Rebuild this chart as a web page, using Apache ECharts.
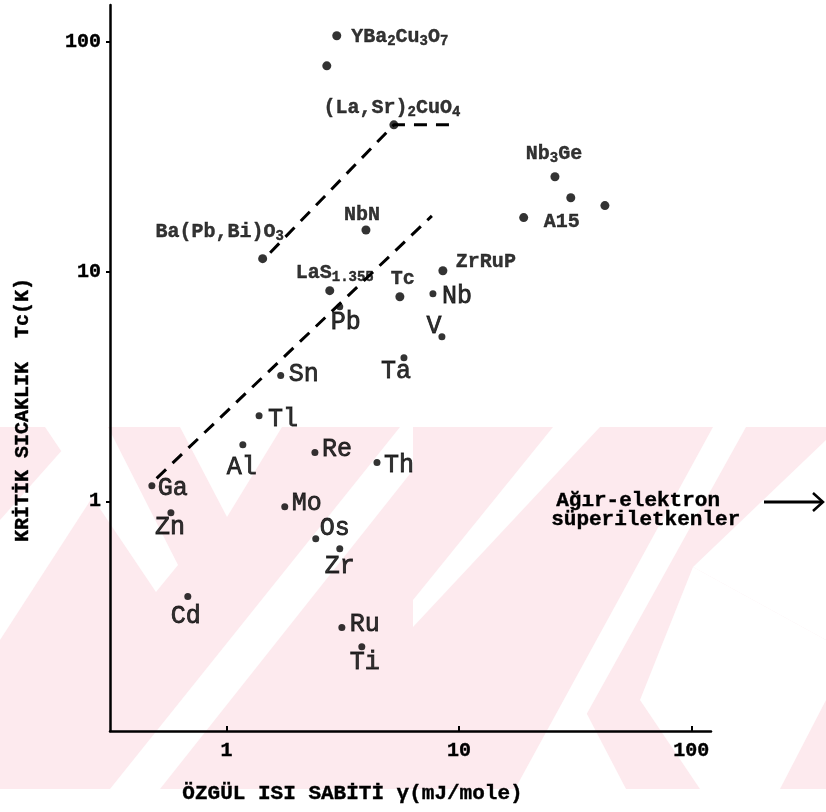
<!DOCTYPE html>
<html>
<head>
<meta charset="utf-8">
<script src="https://cdn.jsdelivr.net/npm/echarts@6/dist/echarts.min.js"></script>
<style>
html,body{margin:0;padding:0;background:#fff;}
#chart{width:826px;height:812px;}
</style>
</head>
<body>
<div id="chart"></div>
<script>
// ---------- DATA ----------
// Compounds / high-Tc materials (gamma [mJ/mole K^2], Tc [K])
var compoundNames = ['YBa{s|2}Cu{s|3}O{s|7}', '', '(La,Sr){s|2}CuO{s|4}', 'Ba(Pb,Bi)O{s|3}', 'NbN',
  'LaS{s|1.355}', 'Tc', 'Nb{s|3}Ge', '', '', 'A15', 'ZrRuP'];
var compoundGamma = [2.98, 2.70, 5.25, 1.43, 3.98, 2.78, 5.57, 25.9, 30.3, 42.5, 19.0, 8.53];
var compoundTc    = [106.5, 78.8, 43.6, 11.4, 15.2, 8.27, 7.78, 25.9, 21.0, 19.4, 17.2, 10.1];

// Elements
var elementNames = ['Nb', 'V', 'Pb', 'Ta', 'Sn', 'Tl', 'Al', 'Re', 'Th', 'Ga', 'Mo', 'Zn', 'Os', 'Zr', 'Cd', 'Ru', 'Ti'];
var elementGamma = [7.73, 8.45, 3.07, 5.80, 1.71, 1.38, 1.175, 2.40, 4.44, 0.477, 1.78, 0.576, 2.42, 3.07, 0.681, 3.135, 3.82];
var elementTc    = [8.02, 5.21, 7.04, 4.22, 3.53, 2.36, 1.765, 1.63, 1.475, 1.17, 0.948, 0.893, 0.688, 0.622, 0.385, 0.282, 0.233];

// Dashed guide lines
var guide1Gamma = [1.54, 5.25, 9.06];
var guide1Tc    = [12.1, 43.6, 43.6];
var guide2Gamma = [0.50, 7.65];
var guide2Tc    = [1.26, 17.5];

// Axis ticks
var xTicks = [1, 10, 100];
var yTicks = [1, 10, 100];

// Annotation text
var annotationLines = ['Ağır-elektron', 'süperiletkenler'];

// ---------- LABEL LAYOUT (style, not data) ----------
var compoundLabelOffsets = [[63, 1], [0, 0], [-2, -17], [-43, -27], [-4, -15], [5, -18], [3, -18], [-1, -23], [0, 0], [0, 0], [38, 4], [43, -9]];
var elementLabelOffsets = [[24, 3], [-8, -10], [6, 16], [-8, 14], [23, -1], [24, 4], [-1, 23], [22, -3], [22, 3], [21, 3], [22, -3], [-1, 15], [19, -10], [0, 18], [-2, 20], [23, -3], [3, 16]];

var MONO = '"Liberation Mono", "DejaVu Sans Mono", monospace';

function zip(xs, ys, names, offs) {
  return xs.map(function (x, i) {
    return { name: names[i], value: [x, ys[i]], label: { offset: offs[i] } };
  });
}
function pairs(xs, ys) { return xs.map(function (x, i) { return [x, ys[i]]; }); }
function tickFmt(list) {
  return function (v) {
    var r = Math.round(v);
    return (list.indexOf(r) >= 0 && Math.abs(v - r) < 1e-6) ? String(r) : '';
  };
}

var chart = echarts.init(document.getElementById('chart'), null, { renderer: 'canvas' });

var pink = '#fdeaee';
var watermark = [
  { type: 'rect', shape: { x: 0, y: 427, width: 826, height: 362 }, style: { fill: pink } },
  { type: 'polygon', shape: { points: [[45, 427], [108, 427], [178, 565], [156, 592]] }, style: { fill: '#fff' } },
  { type: 'polygon', shape: { points: [[180, 427], [282, 427], [227, 517]] }, style: { fill: '#fff' } },
  { type: 'polygon', shape: { points: [[0, 520], [0, 640], [110, 470], [80, 430]] }, style: { fill: '#fff' } },
  { type: 'polygon', shape: { points: [[110, 789], [160, 789], [413, 470], [413, 420], [400, 427]] }, style: { fill: '#fff' } },
  { type: 'polygon', shape: { points: [[553, 427], [600, 427], [413, 627], [413, 600]] }, style: { fill: '#fff' } },
  { type: 'polygon', shape: { points: [[713, 427], [746, 427], [545, 789], [515, 789]] }, style: { fill: '#fff' } },
  { type: 'polygon', shape: { points: [[693, 567], [826, 440], [826, 640]] }, style: { fill: '#fff' } },
  { type: 'polygon', shape: { points: [[693, 567], [826, 640], [826, 700], [780, 789], [700, 789], [640, 700]] }, style: { fill: '#fff' } },
  { type: 'polygon', shape: { points: [[576, 693], [530, 789], [626, 789]] }, style: { fill: '#fff' } }
].map(function (e) { e.z = -100; e.silent = true; return e; });

var boldText = { fontFamily: MONO, fontWeight: 'bold', color: '#000', textBorderColor: '#000', textBorderWidth: 0.4 };

var option = {
  backgroundColor: '#fff',
  animation: false,
  textStyle: { fontFamily: MONO, color: '#000' },
  grid: { left: 110, top: 5, right: 115, bottom: 81, containLabel: false },
  xAxis: {
    type: 'log', logBase: 10, min: 0.315, max: 121.6,
    name: 'ÖZGÜL ISI SABİTİ γ(mJ/mole)',
    nameLocation: 'middle', nameGap: 52,
    nameTextStyle: Object.assign({}, boldText, { fontSize: 21, padding: [0, 116, 0, 0] }),
    axisLine: { lineStyle: { color: '#000', width: 2.5 } },
    axisTick: { inside: true, length: 5, lineStyle: { color: '#000', width: 2 } },
    axisLabel: Object.assign({}, boldText, {
      showMinLabel: false, showMaxLabel: false, margin: 10, fontSize: 20,
      formatter: tickFmt(xTicks)
    }),
    splitLine: { show: false }
  },
  yAxis: {
    type: 'log', logBase: 10, min: 0.1, max: 145,
    name: 'KRİTİK SICAKLIK  Tc(K)',
    nameLocation: 'middle', nameGap: 77, nameRotate: 90,
    nameTextStyle: Object.assign({}, boldText, { fontSize: 20, padding: [0, 84, 0, 0] }),
    axisLine: { lineStyle: { color: '#000', width: 2.5 } },
    axisTick: { length: 4, lineStyle: { color: '#000', width: 2 } },
    axisLabel: Object.assign({}, boldText, {
      showMinLabel: false, showMaxLabel: false, margin: 9, fontSize: 20,
      formatter: tickFmt(yTicks)
    }),
    splitLine: { show: false }
  },
  graphic: watermark.concat([
    {
      type: 'text', left: 556, top: 490, z: 10,
      style: { text: annotationLines[0], font: 'bold 21px ' + MONO, fill: '#000', stroke: '#000', lineWidth: 0.4 }
    },
    {
      type: 'text', left: 551, top: 509, z: 10,
      style: { text: annotationLines[1], font: 'bold 21px ' + MONO, fill: '#000', stroke: '#000', lineWidth: 0.4 }
    },
    {
      type: 'line', z: 10, shape: { x1: 764, y1: 502, x2: 822, y2: 502 },
      style: { stroke: '#000', lineWidth: 3 }
    },
    {
      type: 'polyline', z: 10, shape: { points: [[813, 493], [823, 502], [813, 511]] },
      style: { stroke: '#000', lineWidth: 2.5, fill: null }
    }
  ]),
  series: [
    {
      name: 'guide1', type: 'line', data: pairs(guide1Gamma, guide1Tc), symbol: 'none', silent: true,
      lineStyle: { color: '#000', width: 3, type: [13, 9] }, z: 1
    },
    {
      name: 'guide2', type: 'line', data: pairs(guide2Gamma, guide2Tc), symbol: 'none', silent: true,
      lineStyle: { color: '#000', width: 3, type: [13, 9] }, z: 1
    },
    {
      name: 'Bileşikler', type: 'scatter', symbolSize: 9,
      itemStyle: { color: '#000' },
      data: zip(compoundGamma, compoundTc, compoundNames, compoundLabelOffsets),
      label: Object.assign({}, boldText, {
        show: true, position: 'inside', align: 'center', verticalAlign: 'middle',
        formatter: function (p) { return p.name; },
        fontSize: 20, lineHeight: 24,
        rich: { s: Object.assign({}, boldText, { fontSize: 14, lineHeight: 14, verticalAlign: 'bottom' }) }
      })
    },
    {
      name: 'Elementler', type: 'scatter', symbolSize: 7,
      itemStyle: { color: '#000' },
      data: zip(elementGamma, elementTc, elementNames, elementLabelOffsets),
      label: {
        show: true, position: 'inside', align: 'center', verticalAlign: 'middle',
        formatter: function (p) { return p.name; },
        fontFamily: MONO, fontSize: 25, color: '#000', textBorderColor: '#000', textBorderWidth: 0.8
      }
    }
  ]
};
chart.setOption(option);
</script>
</body>
</html>
